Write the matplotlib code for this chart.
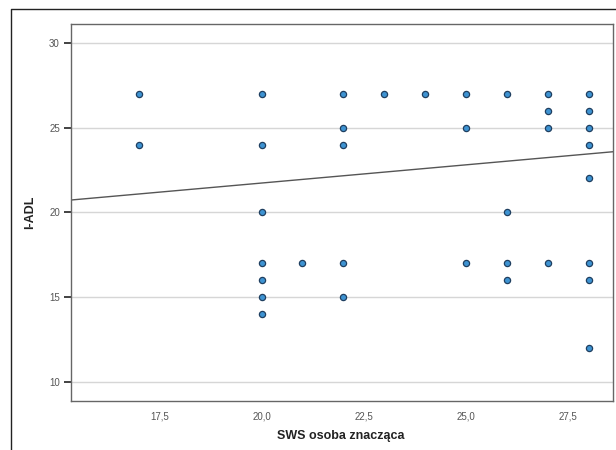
import matplotlib
matplotlib.use("Agg")
import matplotlib.pyplot as plt
from matplotlib.lines import Line2D
import numpy as np

plt.rcParams['font.family'] = ['Liberation Sans', 'DejaVu Sans']

# Data (SWS osoba znacząca vs I-ADL)
sws = [17, 17,
       20, 20, 20, 20, 20, 20, 20,
       21,
       22, 22, 22, 22, 22,
       23,
       24,
       25, 25, 25,
       26, 26, 26, 26,
       27, 27, 27, 27,
       28, 28, 28, 28, 28, 28, 28, 28]
iadl = [27, 24,
        27, 24, 20, 17, 16, 15, 14,
        17,
        27, 25, 24, 17, 15,
        27,
        27,
        27, 25, 17,
        27, 20, 17, 16,
        27, 26, 25, 17,
        27, 26, 25, 24, 22, 17, 16, 12]

# Fit line
fit_intercept = 17.43
fit_slope = 0.215

x_ticks = [17.5, 20.0, 22.5, 25.0, 27.5]
x_tick_labels = ["17,5", "20,0", "22,5", "25,0", "27,5"]
y_ticks = [10, 15, 20, 25, 30]

fig = plt.figure(figsize=(6.16, 4.5), dpi=100)
ax = fig.add_axes([71/616, 1 - 400.7/450, (612.7 - 71)/616, (400.7 - 24)/450])

xlim = (15.34, 28.59)
ylim = (8.88, 31.12)

for yt in y_ticks:
    ax.axhline(yt, color="#d6d6d6", lw=1.0, zorder=0)

xs = np.array(xlim)
ax.plot(xs, fit_intercept + fit_slope * xs, color="#555555", lw=1.0, zorder=1)

ax.scatter(sws, iadl, s=20, facecolor="#3e93d2", edgecolor="#1f3f60",
           linewidths=0.9, zorder=3)

ax.set_xlim(*xlim)
ax.set_ylim(*ylim)
ax.set_xticks(x_ticks)
ax.set_xticklabels(x_tick_labels)
ax.set_yticks(y_ticks)
ax.tick_params(axis="x", length=0, pad=8, labelsize=7, labelcolor="#555555")
ax.tick_params(axis="y", length=5, width=1.2, color="#222222", pad=3,
               labelsize=7, labelcolor="#555555")
for sp in ax.spines.values():
    sp.set_color("#666666")
    sp.set_linewidth(1.0)

fig.text(341/616, 1 - 436/450, "SWS osoba znacząca", ha="center", va="center",
         fontsize=9, fontweight="bold", color="#222222")
fig.text(30/616, 1 - 212/450, "I-ADL", ha="center", va="center",
         rotation=90, fontsize=9, fontweight="bold", color="#222222")

# outer frame (left and top edges visible)
fig.add_artist(Line2D([11/616, 11/616, 1.0], [0.0, 1 - 9/450, 1 - 9/450],
                      transform=fig.transFigure, color="#222222", lw=1.0))

fig.savefig("out.png", dpi=100)
